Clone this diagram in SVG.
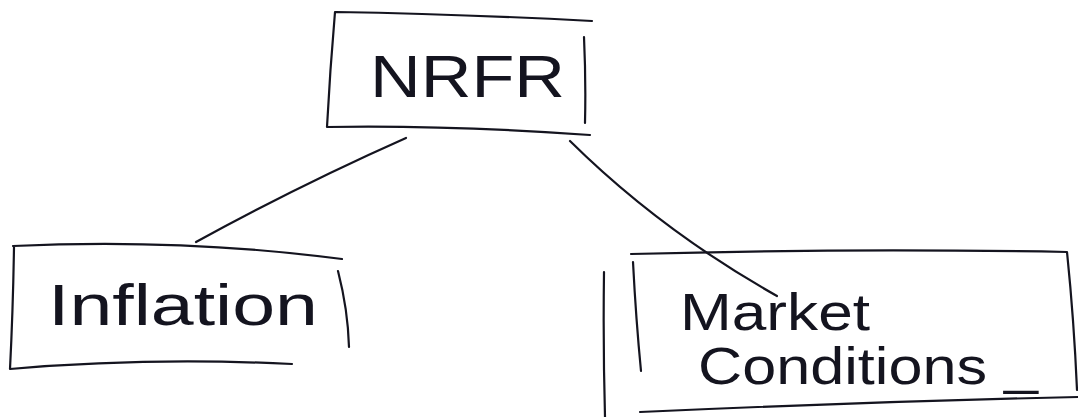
<svg xmlns="http://www.w3.org/2000/svg" width="1078" height="417" viewBox="0 0 1078 417">
<style>
.s{fill:none;stroke:#14141f;stroke-width:2.2;stroke-linecap:round;stroke-linejoin:round}
.t{font-family:"Liberation Sans",Arial,sans-serif;fill:#14141f;font-weight:normal}
</style>
<rect width="1078" height="417" fill="#ffffff"/>
<g id="connectors">
<path class="s" d="M406,138 Q300,185 196,242"/>
<path class="s" d="M570,141 Q660,230 777,296"/>
</g>
<g id="nrfr">
<path class="s" d="M336,12 Q460,14 592,21 M335,12 Q330,70 327,127 Q450,125 590,135 M584,37 Q586,80 585,123"/>
<text class="t" x="370" y="97" font-size="60" textLength="195" lengthAdjust="spacingAndGlyphs">NRFR</text>
</g>
<g id="inflation">
<path class="s" d="M13,246 Q180,238 342,259 M14,247 Q13,310 10,369 Q150,357 292,364 M338,271 Q348,310 349,347"/>
<text class="t" x="48" y="325" font-size="58" textLength="270" lengthAdjust="spacingAndGlyphs">Inflation</text>
</g>
<g id="market">
<path class="s" d="M631,254 Q850,248 1067,252 Q1074,320 1077,390 M633,262 Q636,320 641,371 M604,272 Q603,345 605,417 M640,412 Q860,402 1078,397"/>
<text class="t" x="680" y="330" font-size="52" textLength="190" lengthAdjust="spacingAndGlyphs">Market</text>
<text class="t" x="698" y="384" font-size="52" textLength="340" lengthAdjust="spacingAndGlyphs">Conditions _</text>
</g>
</svg>
